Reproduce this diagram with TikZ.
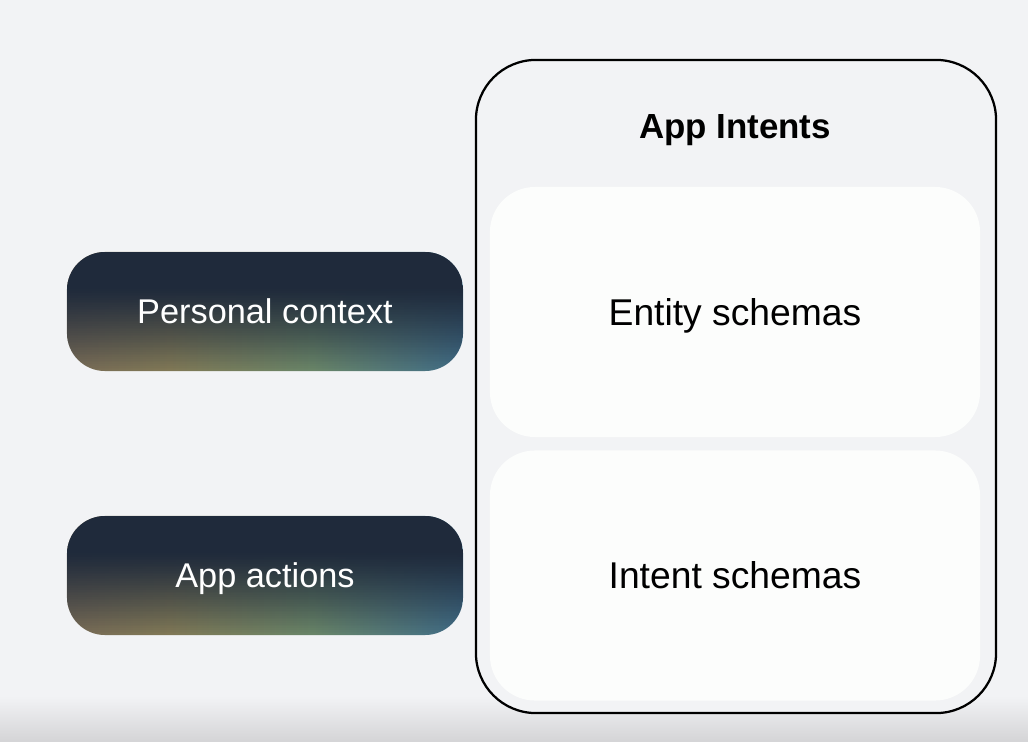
\documentclass[tikz,border=0pt]{standalone}
\usepackage{fontspec}
\setmainfont{Liberation Sans}
\usetikzlibrary{calc}
\definecolor{BgClr}{HTML}{F2F3F5}
\definecolor{StripClr}{HTML}{D4D4D6}
\definecolor{CardClr}{HTML}{FCFDFC}
\definecolor{NavyClr}{HTML}{1F2A3B}
\definecolor{GlowA}{HTML}{6C5259}
\definecolor{GlowB}{HTML}{877E58}
\definecolor{GlowC}{HTML}{6E8B6B}
\definecolor{GlowD}{HTML}{40708F}
\definecolor{GlowE}{HTML}{4A5677}
\pgfdeclarehorizontalshading{glowshade}{100bp}{color(0bp)=(GlowA); color(38bp)=(GlowB); color(56bp)=(GlowC); color(76bp)=(GlowD); color(100bp)=(GlowE)}

\begin{document}
\begin{tikzpicture}[x=0.025cm,y=-0.025cm,
  glowbox/.style={rounded corners=0.95cm, minimum width=9.9cm, minimum height=2.975cm,
    text=white, font=\fontsize{24.4}{29}\selectfont, text height=17.5pt, text depth=0pt,
    shading=glowshade,
    path picture={
      \coordinate (nw) at (path picture bounding box.north west);
      \coordinate (ne) at (path picture bounding box.north east);
      \coordinate (sw) at (path picture bounding box.south west);
      \coordinate (se) at (path picture bounding box.south east);
      \fill[NavyClr, sharp corners] (nw) rectangle ($(ne)!0.3!(se)$);
      \foreach \i in {0,...,47} {
        \pgfmathsetmacro\op{1-0.95*((\i+0.5)/48)^1.2}
        \fill[NavyClr, sharp corners, opacity=\op]
          ($(nw)!0.3+0.7*\i/48!(sw)$) rectangle ($(ne)!0.3+0.7*(\i+1)/48!(se)$);
      }}},
  cardbox/.style={rounded corners=1.125cm, minimum width=12.25cm, minimum height=6.25cm,
    fill=CardClr, font=\fontsize{26.5}{31}\selectfont, text height=19pt, text depth=0pt}]

\fill[BgClr] (0,0) rectangle (1028,742);
\shade[top color=BgClr, bottom color=StripClr] (0,696) rectangle (1028,742);

% container
\node[draw=black, line width=1.6pt, fill=BgClr, rounded corners=1.5cm,
  minimum width=13cm, minimum height=16.325cm] (intents) at (736,386.5) {};
\node[font=\bfseries\fontsize{24.8}{29}\selectfont, text height=17.8pt, text depth=0pt]
  (title) at (735,126) {App Intents};

\node[cardbox] (entity) at (735,312) {Entity schemas};
\node[cardbox] (intent) at (735,575.5) {Intent schemas};

\node[glowbox] (context) at (265,311.5) {Personal context};
\node[glowbox] (actions) at (265,575.5) {App actions};

\end{tikzpicture}
\end{document}
